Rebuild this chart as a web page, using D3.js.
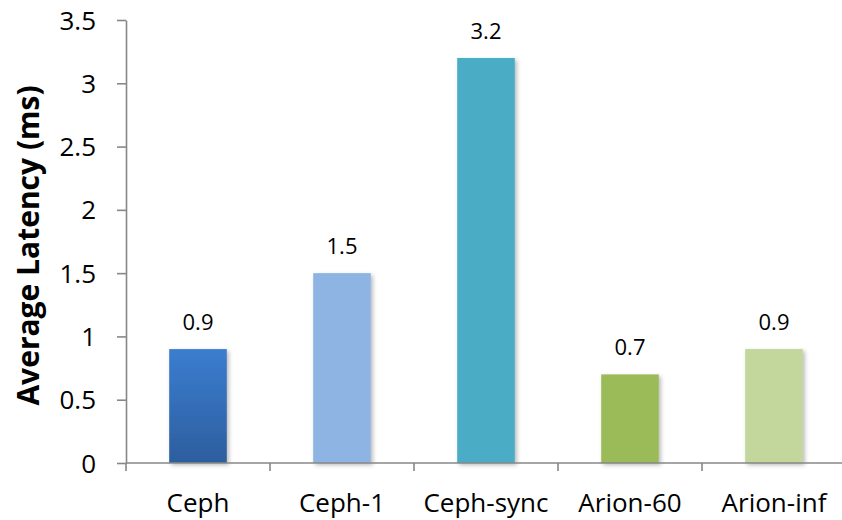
<!DOCTYPE html>
<html>
<head>
<meta charset="utf-8">
<script src="https://cdn.jsdelivr.net/npm/d3@7"></script>
<style>
  html, body { margin: 0; padding: 0; background: #fff; }
  svg { display: block; }
  text { font-family: "Open Sans", sans-serif; fill: #000; }
</style>
</head>
<body>
<svg id="chart" width="842" height="520"></svg>
<script>
// Average latency per storage configuration (ms)
const categories = ["Ceph", "Ceph-1", "Ceph-sync", "Arion-60", "Arion-inf"];
const latency = [0.9, 1.5, 3.2, 0.7, 0.9];
const yTicks = [0, 0.5, 1, 1.5, 2, 2.5, 3, 3.5];
const yTickLabels = ["0", "0.5", "1", "1.5", "2", "2.5", "3", "3.5"];
const barColors = ["url(#cephGrad)", "#8EB4E3", "#4BACC6", "#9BBB59", "#C3D69B"];

const svg = d3.select("#chart");
const plotLeft = 126, plotRight = 846, plotTop = 20, plotBottom = 463;

const x = d3.scaleBand()
  .domain(categories)
  .range([plotLeft, plotRight])
  .paddingInner(0.6)
  .paddingOuter(0.3);

const y = d3.scaleLinear().domain([0, 3.5]).range([plotBottom, plotTop]);

const defs = svg.append("defs");
const grad = defs.append("linearGradient")
  .attr("id", "cephGrad").attr("x1", 0).attr("y1", 0).attr("x2", 0).attr("y2", 1);
grad.append("stop").attr("offset", "0%").attr("stop-color", "#3B7DD0");
grad.append("stop").attr("offset", "100%").attr("stop-color", "#2C5E9E");

const shadow = defs.append("filter").attr("id", "barShadow")
  .attr("x", "-20%").attr("y", "-20%").attr("width", "150%").attr("height", "140%");
shadow.append("feDropShadow")
  .attr("dx", 2).attr("dy", 2).attr("stdDeviation", 2)
  .attr("flood-color", "#000").attr("flood-opacity", 0.28);

// Bars
svg.append("g").selectAll("rect")
  .data(latency)
  .join("rect")
  .attr("x", (d, i) => x(categories[i]))
  .attr("y", d => y(d))
  .attr("width", x.bandwidth())
  .attr("height", d => y(0) - y(d))
  .attr("fill", (d, i) => barColors[i])
  .attr("filter", "url(#barShadow)");

// Value labels
svg.append("g").selectAll("text")
  .data(latency)
  .join("text")
  .attr("x", (d, i) => x(categories[i]) + x.bandwidth() / 2)
  .attr("y", d => y(d) - 19)
  .attr("text-anchor", "middle")
  .style("font-size", "22px")
  .text(d => d.toFixed(1));

// Y axis
const yAxis = d3.axisLeft(y)
  .tickValues(yTicks)
  .tickFormat((d, i) => yTickLabels[i])
  .tickSize(9)
  .tickPadding(21)
  .tickSizeOuter(0);

const gy = svg.append("g").attr("transform", `translate(${plotLeft},0)`).call(yAxis);
gy.select(".domain").attr("stroke", "#878787").attr("stroke-width", 1.6);
gy.selectAll(".tick line").attr("stroke", "#878787").attr("stroke-width", 1.6);
gy.selectAll(".tick text")
  .attr("fill", "#000")
  .attr("dy", "0.35em")
  .style("font-family", "'Open Sans', sans-serif")
  .style("font-size", "26px");

// X axis baseline with ticks at category boundaries
const gx = svg.append("g");
gx.append("line")
  .attr("x1", plotLeft).attr("x2", plotRight)
  .attr("y1", y(0)).attr("y2", y(0))
  .attr("stroke", "#878787").attr("stroke-width", 1.6);
gx.selectAll("line.bound")
  .data(d3.range(categories.length + 1))
  .join("line")
  .attr("class", "bound")
  .attr("x1", i => plotLeft + i * x.step())
  .attr("x2", i => plotLeft + i * x.step())
  .attr("y1", y(0)).attr("y2", y(0) + 8)
  .attr("stroke", "#878787").attr("stroke-width", 1.6);

gx.selectAll("text")
  .data(categories)
  .join("text")
  .attr("x", d => x(d) + x.bandwidth() / 2)
  .attr("y", y(0) + 49)
  .attr("text-anchor", "middle")
  .style("font-size", "26px")
  .text(d => d);

// Y axis title
svg.append("text")
  .attr("transform", `translate(39,${(plotTop + plotBottom) / 2 + 4}) rotate(-90)`)
  .attr("text-anchor", "middle")
  .style("font-size", "30px")
  .style("font-weight", "bold")
  .text("Average Latency (ms)");
</script>
</body>
</html>
